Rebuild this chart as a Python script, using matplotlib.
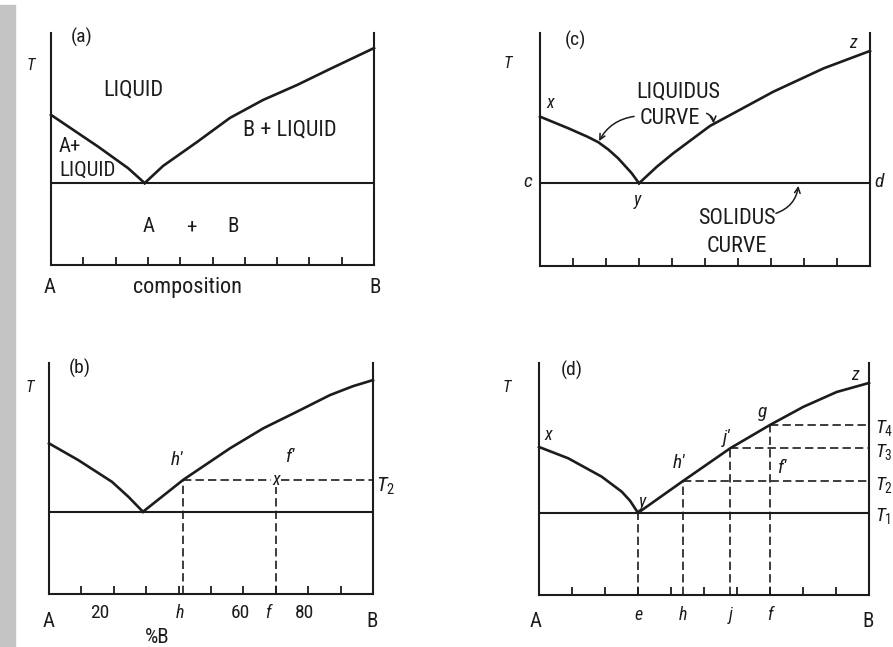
import matplotlib
matplotlib.use("Agg")
import matplotlib.pyplot as plt
from matplotlib import font_manager
from matplotlib.patches import Rectangle

W, H = 893, 647
INK = "#1c1c1c"

fonts = font_manager.fontManager.ttflist
names = {f.name for f in fonts}
STRETCH = "normal"
FAM = None
for cand in ["Liberation Sans Narrow", "DejaVu Sans Condensed", "Roboto Condensed",
             "Open Sans Condensed", "Noto Sans Condensed"]:
    if cand in names:
        FAM = cand
        k = 1.0
        break
if FAM is None:
    for fam in ["Roboto", "Noto Sans", "DejaVu Sans", "Open Sans"]:
        if any(f.name == fam and f.stretch in ("condensed", "semi-condensed") for f in fonts):
            FAM, STRETCH, k = fam, "condensed", 0.95
            break
if FAM is None:
    FAM, k = "Liberation Sans", 0.84
plt.rcParams["font.family"] = [FAM, "DejaVu Sans"]
plt.rcParams["font.stretch"] = STRETCH
plt.rcParams["mathtext.fontset"] = "custom"
plt.rcParams["mathtext.rm"] = FAM
plt.rcParams["mathtext.it"] = FAM + ":italic"

# composition in %B (0 = A, 100 = B), temperature on 0-100 scale
ticks = [10, 20, 30, 40, 50, 60, 70, 80, 90]

# (a)
a_left_x = [0, 14.6, 23.9, 29]
a_left_T = [64.7, 51.0, 41.7, 35.3]
a_right_x = [29, 34.7, 45.2, 55.4, 65.6, 76.2, 86.4, 100]
a_right_T = [35.3, 42.7, 53.0, 63.4, 71.1, 77.6, 84.5, 93.5]

# (b)
b_left_x = [0, 9.0, 19.4, 24.5, 29]
b_left_T = [65.2, 58.0, 48.6, 42.1, 35.6]
b_right_x = [29, 41.5, 55.9, 66.1, 76.5, 86.7, 93.9, 100]
b_right_T = [35.6, 49.5, 63.1, 71.7, 78.9, 86.1, 90.0, 92.6]
b_h, b_f, b_T2 = 41.5, 70, 49.5

# (c)
c_left_x = [0, 8.6, 14.5, 17.7, 20.7, 23.7, 27.8, 30]
c_left_T = [64.1, 59.1, 55.4, 53.1, 50.0, 46.2, 39.8, 35.5]
c_right_x = [30, 35.4, 40.4, 51.5, 70.7, 85.9, 100]
c_right_T = [35.5, 42.6, 48.4, 60.1, 74.8, 84.8, 92.3]

# (d)
d_left_x = [0, 8.9, 19, 25.1, 27.6, 30]
d_left_T = [63.8, 58.9, 51.0, 44.5, 40.6, 35.4]
d_right_x = [30, 43.5, 58, 70, 80.1, 90.2, 100]
d_right_T = [35.4, 49.0, 63.3, 73.3, 81.1, 87.5, 91.4]
d_comp = [30, 43.5, 58, 70]          # e, h, j, f
d_comp_lab = ["e", "h", "j", "f"]
d_levels = [35.4, 49.0, 63.3, 73.3]  # T1..T4

fig = plt.figure(figsize=(W / 100, H / 100), dpi=100)
fig.patches.append(Rectangle((0, 0), 15 / W, 1 - 5 / H, transform=fig.transFigure,
                             color="#c4c4c4", zorder=-5))


def panel(L, R, T, B):
    ax = fig.add_axes([L / W, 1 - B / H, (R - L) / W, (B - T) / H])
    ax.set_xlim(0, 100)
    ax.set_ylim(0, 100)
    ax.patch.set_alpha(0)
    ax.spines["top"].set_visible(False)
    for s in ("left", "right", "bottom"):
        ax.spines[s].set_linewidth(1.5)
        ax.spines[s].set_color(INK)
    ax.set_xticks(ticks)
    ax.set_yticks([])
    ax.tick_params(axis="x", direction="in", length=6, width=1.3, color=INK,
                   labelbottom=False)
    return ax


def diagram(ax, lx, lT, rx, rT):
    ax.plot(lx, lT, color=INK, lw=1.9, clip_on=False, solid_joinstyle="round")
    ax.plot(rx, rT, color=INK, lw=1.9, clip_on=False, solid_joinstyle="round")
    ax.plot([0, 100], [lT[-1], lT[-1]], color=INK, lw=1.5)


def txt(ax, x, y, s, size=15, style="normal", **kw):
    ax.text(x, y, s, fontsize=size * k, style=style, ha=kw.pop("ha", "center"),
            va=kw.pop("va", "center"), color=INK, clip_on=False, **kw)


dash = dict(color=INK, lw=1.2, linestyle=(0, (5, 2.5)))

# ---- (a)
ax = panel(51, 374, 33, 265)
diagram(ax, a_left_x, a_left_T, a_right_x, a_right_T)
txt(ax, 9.6, 98.3, "(a)", 14)
txt(ax, -6.2, 86.2, "T", 12, "italic")
txt(ax, 25.4, 75.4, "LIQUID", 16)
txt(ax, 74, 58.2, "B + LIQUID", 16)
txt(ax, 2.5, 50.9, "A+", 15, ha="left")
txt(ax, 2.5, 40.9, "LIQUID", 15, ha="left")
txt(ax, 30.3, 16.4, "A", 15)
txt(ax, 43.3, 16.4, "+", 15)
txt(ax, 56.3, 16.4, "B", 15)
txt(ax, -0.3, -9.9, "A", 15)
txt(ax, 42.4, -9.9, "composition", 16)
txt(ax, 100.3, -9.9, "B", 15)

# ---- (b)
ax = panel(49, 373, 363, 594)
diagram(ax, b_left_x, b_left_T, b_right_x, b_right_T)
ax.plot([b_h, b_h], [0, b_T2], **dash)
ax.plot([b_f, b_f], [0, b_T2 - 3], **dash)
ax.plot([b_h, b_f - 1.5], [b_T2, b_T2], **dash)
ax.plot([b_f + 1.5, 100], [b_T2, b_T2], **dash)
txt(ax, b_f, b_T2, "x", 13, "italic")
txt(ax, 9.6, 97.8, "(b)", 14)
txt(ax, -5.9, 89.2, "T", 12, "italic")
txt(ax, 39.5, 58, "h'", 14, "italic")
txt(ax, 74.4, 59.3, "f'", 14, "italic")
txt(ax, 101.0, b_T2 - 3, r"$\mathit{T}_2$", 15, ha="left")
txt(ax, 0, -12.1, "A", 15)
txt(ax, 15.7, -8.2, "20", 14)
txt(ax, b_h - 1, -8.2, "h", 13, "italic")
txt(ax, 59, -8.2, "60", 14)
txt(ax, b_f - 2.5, -8.2, "f", 13, "italic")
txt(ax, 79, -8.2, "80", 14)
txt(ax, 99.7, -12.1, "B", 15)
txt(ax, 33.3, -19, "%B", 15)

# ---- (c)
ax = panel(540, 870, 33, 266)
diagram(ax, c_left_x, c_left_T, c_right_x, c_right_T)
txt(ax, 10.6, 97, "(c)", 14)
txt(ax, -9.7, 87.1, "T", 12, "italic")
txt(ax, 3, 70, "x", 13, "italic")
txt(ax, 94.8, 95.7, "z", 13, "italic")
txt(ax, -3.6, 36, "c", 14, "italic")
txt(ax, 102.7, 36, "d", 14, "italic")
txt(ax, 29.4, 28.3, "y", 13, "italic")
txt(ax, 41.8, 74.7, "LIQUIDUS", 16)
txt(ax, 39.4, 63.5, "CURVE", 16)
txt(ax, 59.7, 20.6, "SOLIDUS", 16)
txt(ax, 59.7, 8.2, "CURVE", 16)
arr = dict(arrowstyle="->", lw=1.1, color=INK, shrinkA=0, shrinkB=0)
ax.annotate("", xy=(17.9, 53.6), xytext=(28.5, 64.2),
            arrowprops=dict(arr, connectionstyle="arc3,rad=0.25"))
ax.annotate("", xy=(52.6, 61.2), xytext=(50.5, 65.5),
            arrowprops=dict(arr, connectionstyle="arc3,rad=-0.3"))
ax.annotate("", xy=(78.3, 34.4), xytext=(71.5, 22.6),
            arrowprops=dict(arr, connectionstyle="arc3,rad=0.3"))

# ---- (d)
ax = panel(539, 869, 363, 595)
diagram(ax, d_left_x, d_left_T, d_right_x, d_right_T)
for c, T in zip(d_comp, d_levels):
    ax.plot([c, c], [0, T], **dash)
for c, T in zip(d_comp[1:], d_levels[1:]):
    ax.plot([c, 100], [T, T], **dash)
for i, T in enumerate(d_levels):
    txt(ax, 101.8, T - 1.5, r"$\mathit{T}_%d$" % (i + 1), 14, ha="left")
for c, s in zip(d_comp, d_comp_lab):
    txt(ax, c, -8.6, s, 13, "italic")
txt(ax, 10, 96.9, "(d)", 14)
txt(ax, -9.7, 89.5, "T", 12, "italic")
txt(ax, 2.7, 68.9, "x", 13, "italic")
txt(ax, 31.2, 40, "y", 13, "italic")
txt(ax, 42.4, 56.8, "h'", 14, "italic")
txt(ax, 56.7, 67.6, "j'", 14, "italic")
txt(ax, 67.9, 78.8, "g", 14, "italic")
txt(ax, 73.6, 54.7, "f'", 14, "italic")
txt(ax, 95.8, 94.7, "z", 13, "italic")
txt(ax, -0.9, -11.6, "A", 15)
txt(ax, 99.7, -11.6, "B", 15)

fig.savefig("out.png", dpi=100)
